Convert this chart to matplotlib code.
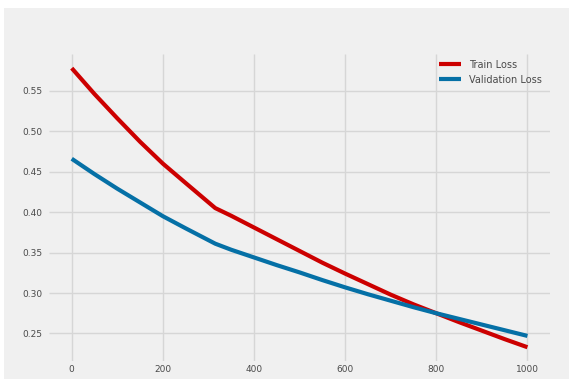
import matplotlib
matplotlib.use("Agg")
import matplotlib.pyplot as plt
from matplotlib.patches import Rectangle

# loss history read at the logged epochs
epochs = [0, 50, 100, 150, 200, 250, 315, 350, 400, 450, 500,
          550, 600, 650, 700, 750, 800, 850, 900, 950, 1000]
train_loss = [0.578, 0.546, 0.516, 0.487, 0.460, 0.436, 0.405, 0.3955, 0.381, 0.3665, 0.352,
              0.3375, 0.324, 0.311, 0.298, 0.286, 0.275, 0.264, 0.2535, 0.243, 0.233]
val_loss = [0.466, 0.447, 0.429, 0.412, 0.395, 0.380, 0.361, 0.3535, 0.344, 0.3345, 0.3255,
            0.316, 0.307, 0.2985, 0.2905, 0.2825, 0.275, 0.268, 0.261, 0.254, 0.247]
yticks = [0.25, 0.30, 0.35, 0.40, 0.45, 0.50, 0.55]
xticks = [0, 200, 400, 600, 800, 1000]

plt.style.use('fivethirtyeight')

fig = plt.figure(figsize=(5.69, 3.79), dpi=100, facecolor='white')
fig.patches.append(Rectangle((4 / 569, 0), 1, 1 - 8 / 379, transform=fig.transFigure,
                             facecolor='#f0f0f0', edgecolor='none', zorder=-1))
ax = fig.add_axes([0.086, 0.047, 0.881, 0.81])
ax.set_facecolor('#f0f0f0')

ax.plot(epochs, train_loss, color='#cc0000', linewidth=3, label='Train Loss')
ax.plot(epochs, val_loss, color='#0570a6', linewidth=3, label='Validation Loss')

ax.set_xticks(xticks)
ax.set_yticks(yticks)
ax.set_yticklabels([f'{v:.2f}' for v in yticks])
ax.tick_params(axis='both', labelsize=6.5, colors='#4a4a4a', length=0)
ax.tick_params(axis='x', pad=2.8)
ax.tick_params(axis='y', pad=4.5)
ax.grid(True, color='#d6d6d6', linewidth=1)
for s in ax.spines.values():
    s.set_visible(False)

leg = ax.legend(loc='upper right', fontsize=7, frameon=False, handlelength=2.2,
                bbox_to_anchor=(1.0, 1.01))
for t in leg.get_texts():
    t.set_color('#4a4a4a')

fig.savefig('out.png', dpi=100, facecolor=fig.get_facecolor())
